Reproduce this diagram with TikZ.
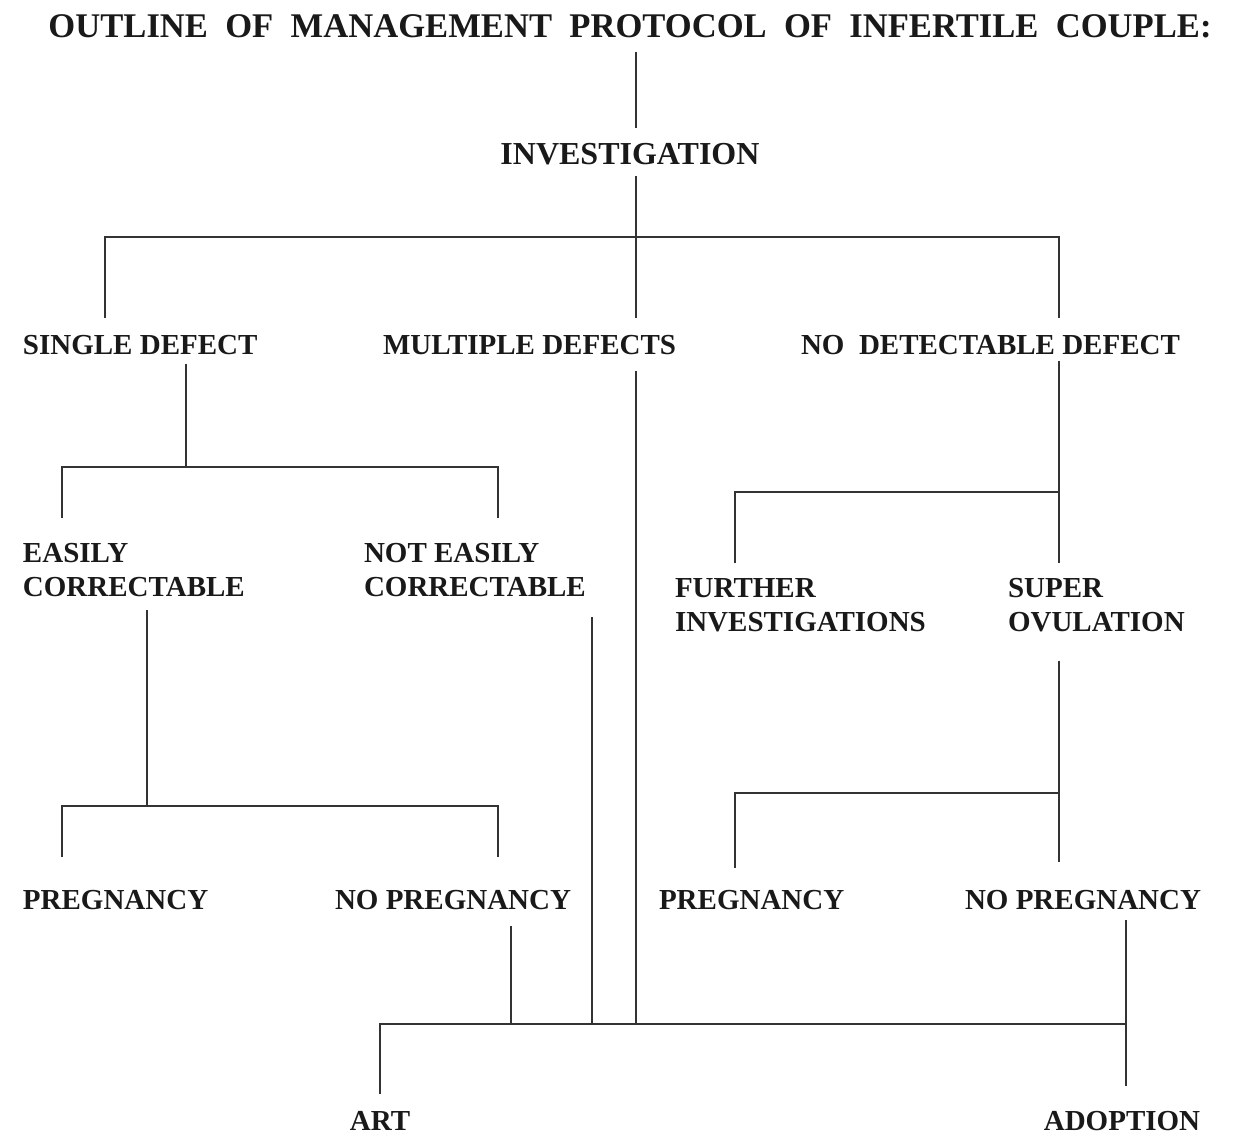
\documentclass[tikz,border=0pt]{standalone}
\usepackage{fontspec}
\setmainfont{Liberation Serif}
\begin{document}
\begin{tikzpicture}[x=0.5pt,y=-0.5pt,
  lbl/.style={inner sep=0pt, outer sep=0pt, text=black!90, font=\fontsize{14.5}{17}\selectfont\bfseries, align=left},
  ttl/.style={lbl, font=\fontsize{17.3}{20}\selectfont\bfseries},
  invs/.style={lbl, font=\fontsize{16}{18}\selectfont\bfseries},
  conn/.style={line width=1.3pt, draw=black!80}]
\useasboundingbox (0,0) rectangle (1248,1136);

% text nodes
\node[ttl, anchor=base] (title) at (630,37) {OUTLINE\ \ OF\ \ MANAGEMENT\ \ PROTOCOL\ \ OF\ \ INFERTILE\ \ COUPLE:};
\node[invs, anchor=base] (inv) at (630,164) {INVESTIGATION};
\node[lbl, anchor=base west] (sd) at (23,354) {SINGLE DEFECT};
\node[lbl, anchor=base west] (md) at (383,354) {MULTIPLE DEFECTS};
\node[lbl, anchor=base west] (ndd) at (801,354) {NO\ \ DETECTABLE DEFECT};
\node[lbl, anchor=north west] (ec) at (23,543) {EASILY\\CORRECTABLE};
\node[lbl, anchor=north west] (nec) at (364,543) {NOT EASILY\\CORRECTABLE};
\node[lbl, anchor=north west] (fi) at (675,578) {FURTHER\\INVESTIGATIONS};
\node[lbl, anchor=north west] (so) at (1008,578) {SUPER\\OVULATION};
\node[lbl, anchor=base west] (p1) at (23,909) {PREGNANCY};
\node[lbl, anchor=base west] (np1) at (335,909) {NO PREGNANCY};
\node[lbl, anchor=base west] (p2) at (659,909) {PREGNANCY};
\node[lbl, anchor=base west] (np2) at (965,909) {NO PREGNANCY};
\node[lbl, anchor=base] (art) at (380,1130) {ART};
\node[lbl, anchor=base] (ado) at (1122,1130) {ADOPTION};

% junction coordinates
\coordinate (c0) at (636,237);
\coordinate (cL) at (105,237);
\coordinate (cR) at (1059,237);
\coordinate (j1) at (186,467);
\coordinate (j1L) at (62,467);
\coordinate (j1R) at (498,467);
\coordinate (j3) at (1059,492);
\coordinate (j3L) at (735,492);
\coordinate (j4) at (147,806);
\coordinate (j4L) at (62,806);
\coordinate (j4R) at (498,806);
\coordinate (j5) at (1059,793);
\coordinate (j5L) at (735,793);
\coordinate (bL) at (380,1024);
\coordinate (bN) at (511,1024);
\coordinate (bK) at (592,1024);
\coordinate (bM) at (636,1024);
\coordinate (bR) at (1126,1024);

% connectors
\draw[conn, shorten <=7.5pt, shorten >=7.5pt] (title.south -| c0) -- (inv.north -| c0);
\draw[conn, shorten <=6pt, shorten >=8.5pt] (inv.south -| c0) -- (md.north -| c0);
\draw[conn, shorten <=8.5pt, shorten >=8.5pt] (sd.north -| cL) |- (c0) -| (ndd.north -| cR);

\draw[conn, shorten <=5pt] (sd.south -| j1) -- (j1);
\draw[conn, shorten <=12.5pt, shorten >=12.5pt] (ec.north -| j1L) |- (j1) -| (nec.north -| j1R);

\draw[conn, shorten <=8.5pt] (md.south -| bM) -- (bM);

\draw[conn, shorten <=3.5pt, shorten >=7.5pt] (ndd.south -| j3) -- (so.north -| j3);
\draw[conn, shorten <=7.5pt] (fi.north -| j3L) |- (j3);

\draw[conn, shorten <=7pt] (ec.south -| j4) -- (j4);
\draw[conn, shorten <=16.5pt, shorten >=16.5pt] (p1.north -| j4L) |- (j4) -| (np1.north -| j4R);

\draw[conn, shorten <=10.5pt] (nec.south -| bK) -- (bK);

\draw[conn, shorten <=14.5pt, shorten >=14pt] (so.south -| j5) -- (np2.north -| j5);
\draw[conn, shorten <=11pt] (p2.north -| j5L) |- (j5);

\draw[conn, shorten <=8.5pt] (np1.south -| bN) -- (bN);

\draw[conn, shorten <=8.5pt] (art.north -| bL) |- (bR);
\draw[conn, shorten <=5.5pt, shorten >=12.5pt] (np2.south -| bR) -- (ado.north -| bR);
\end{tikzpicture}
\end{document}
